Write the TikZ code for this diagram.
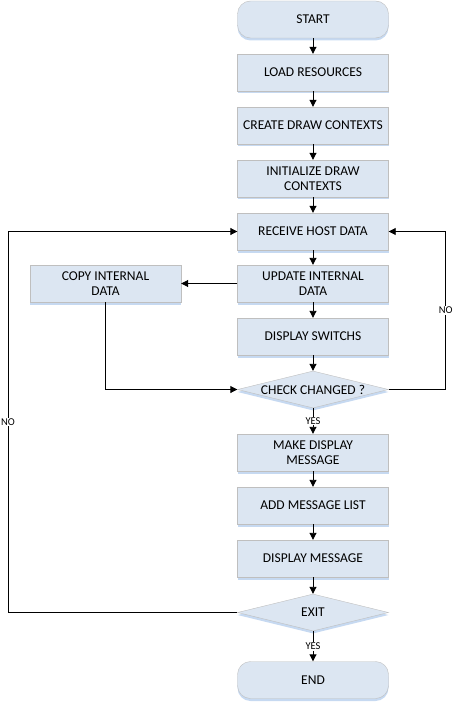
\documentclass[tikz,border=0pt]{standalone}
\usepackage{fontspec}
\setmainfont{Carlito}
\usetikzlibrary{shapes.geometric,arrows.meta,shadows}
\definecolor{boxfill}{HTML}{DCE6F2}
\definecolor{boxline}{HTML}{BFBFBF}
\definecolor{shade}{HTML}{C6D9F1}
\begin{document}
\begin{tikzpicture}[x=1pt,y=-1pt,
  every node/.style={font=\fontsize{13.5}{15}\selectfont},
  proc/.style={draw=boxline,fill=boxfill,minimum width=151pt,minimum height=37pt,inner sep=0pt,align=center,
    drop shadow={shadow xshift=0pt,shadow yshift=-2.5pt,fill=shade,opacity=1}},
  term/.style={proc,rounded corners=13pt},
  dec/.style={diamond,draw=boxline,fill=boxfill,minimum width=151pt,minimum height=37pt,inner sep=0pt,
    drop shadow={shadow xshift=0pt,shadow yshift=-2.5pt,fill=shade,opacity=1}},
  arr/.style={-{Triangle[width=7pt,length=7pt]},line width=0.9pt,black},
  lbl/.style={fill=white,inner sep=1pt,font=\fontsize{10.5}{11}\selectfont}
]
\useasboundingbox (0,0) rectangle (453,703);
\node[term] (start) at (313,19.5) {START};
\node[proc] (load) at (313,72.5) {LOAD RESOURCES};
\node[proc] (create) at (313,125.5) {CREATE DRAW CONTEXTS};
\node[proc] (init) at (313,178.5) {INITIALIZE DRAW\\CONTEXTS};
\node[proc] (recv) at (313,231.5) {RECEIVE HOST DATA};
\node[proc] (upd) at (313,283.5) {UPDATE INTERNAL\\DATA};
\node[proc] (copy) at (105.5,283.5) {COPY INTERNAL\\DATA};
\node[proc] (disp) at (313,336.5) {DISPLAY SWITCHS};
\node[dec,label={center:CHECK CHANGED ?}] (check) at (313,389.5) {};
\node[proc] (make) at (313,452.5) {MAKE DISPLAY\\MESSAGE};
\node[proc] (add) at (313,505.5) {ADD MESSAGE LIST};
\node[proc] (dmsg) at (313,558.5) {DISPLAY MESSAGE};
\node[dec,label={center:EXIT}] (exit) at (313,612.5) {};
\node[term] (end) at (313,680) {END};

\draw[arr] (start) -- (load);
\draw[arr] (load) -- (create);
\draw[arr] (create) -- (init);
\draw[arr] (init) -- (recv);
\draw[arr] (recv) -- (upd);
\draw[arr] (upd) -- (disp);
\draw[arr] (upd) -- (copy);
\draw[arr] (disp) -- (check);
\draw[arr] (copy.south) |- (check.west);
\draw[arr] (check.east) -- ++(57,0) |- node[pos=0.25,lbl] {NO} (recv.east);
\draw[arr] (check) -- node[lbl] {YES} (make);
\draw[arr] (make) -- (add);
\draw[arr] (add) -- (dmsg);
\draw[arr] (dmsg) -- (exit);
\draw[arr] (exit.west) -- (8,612.5) |- node[pos=0.25,lbl] {NO} (recv.west);
\draw[arr] (exit) -- node[lbl] {YES} (end);
\end{tikzpicture}
\end{document}
